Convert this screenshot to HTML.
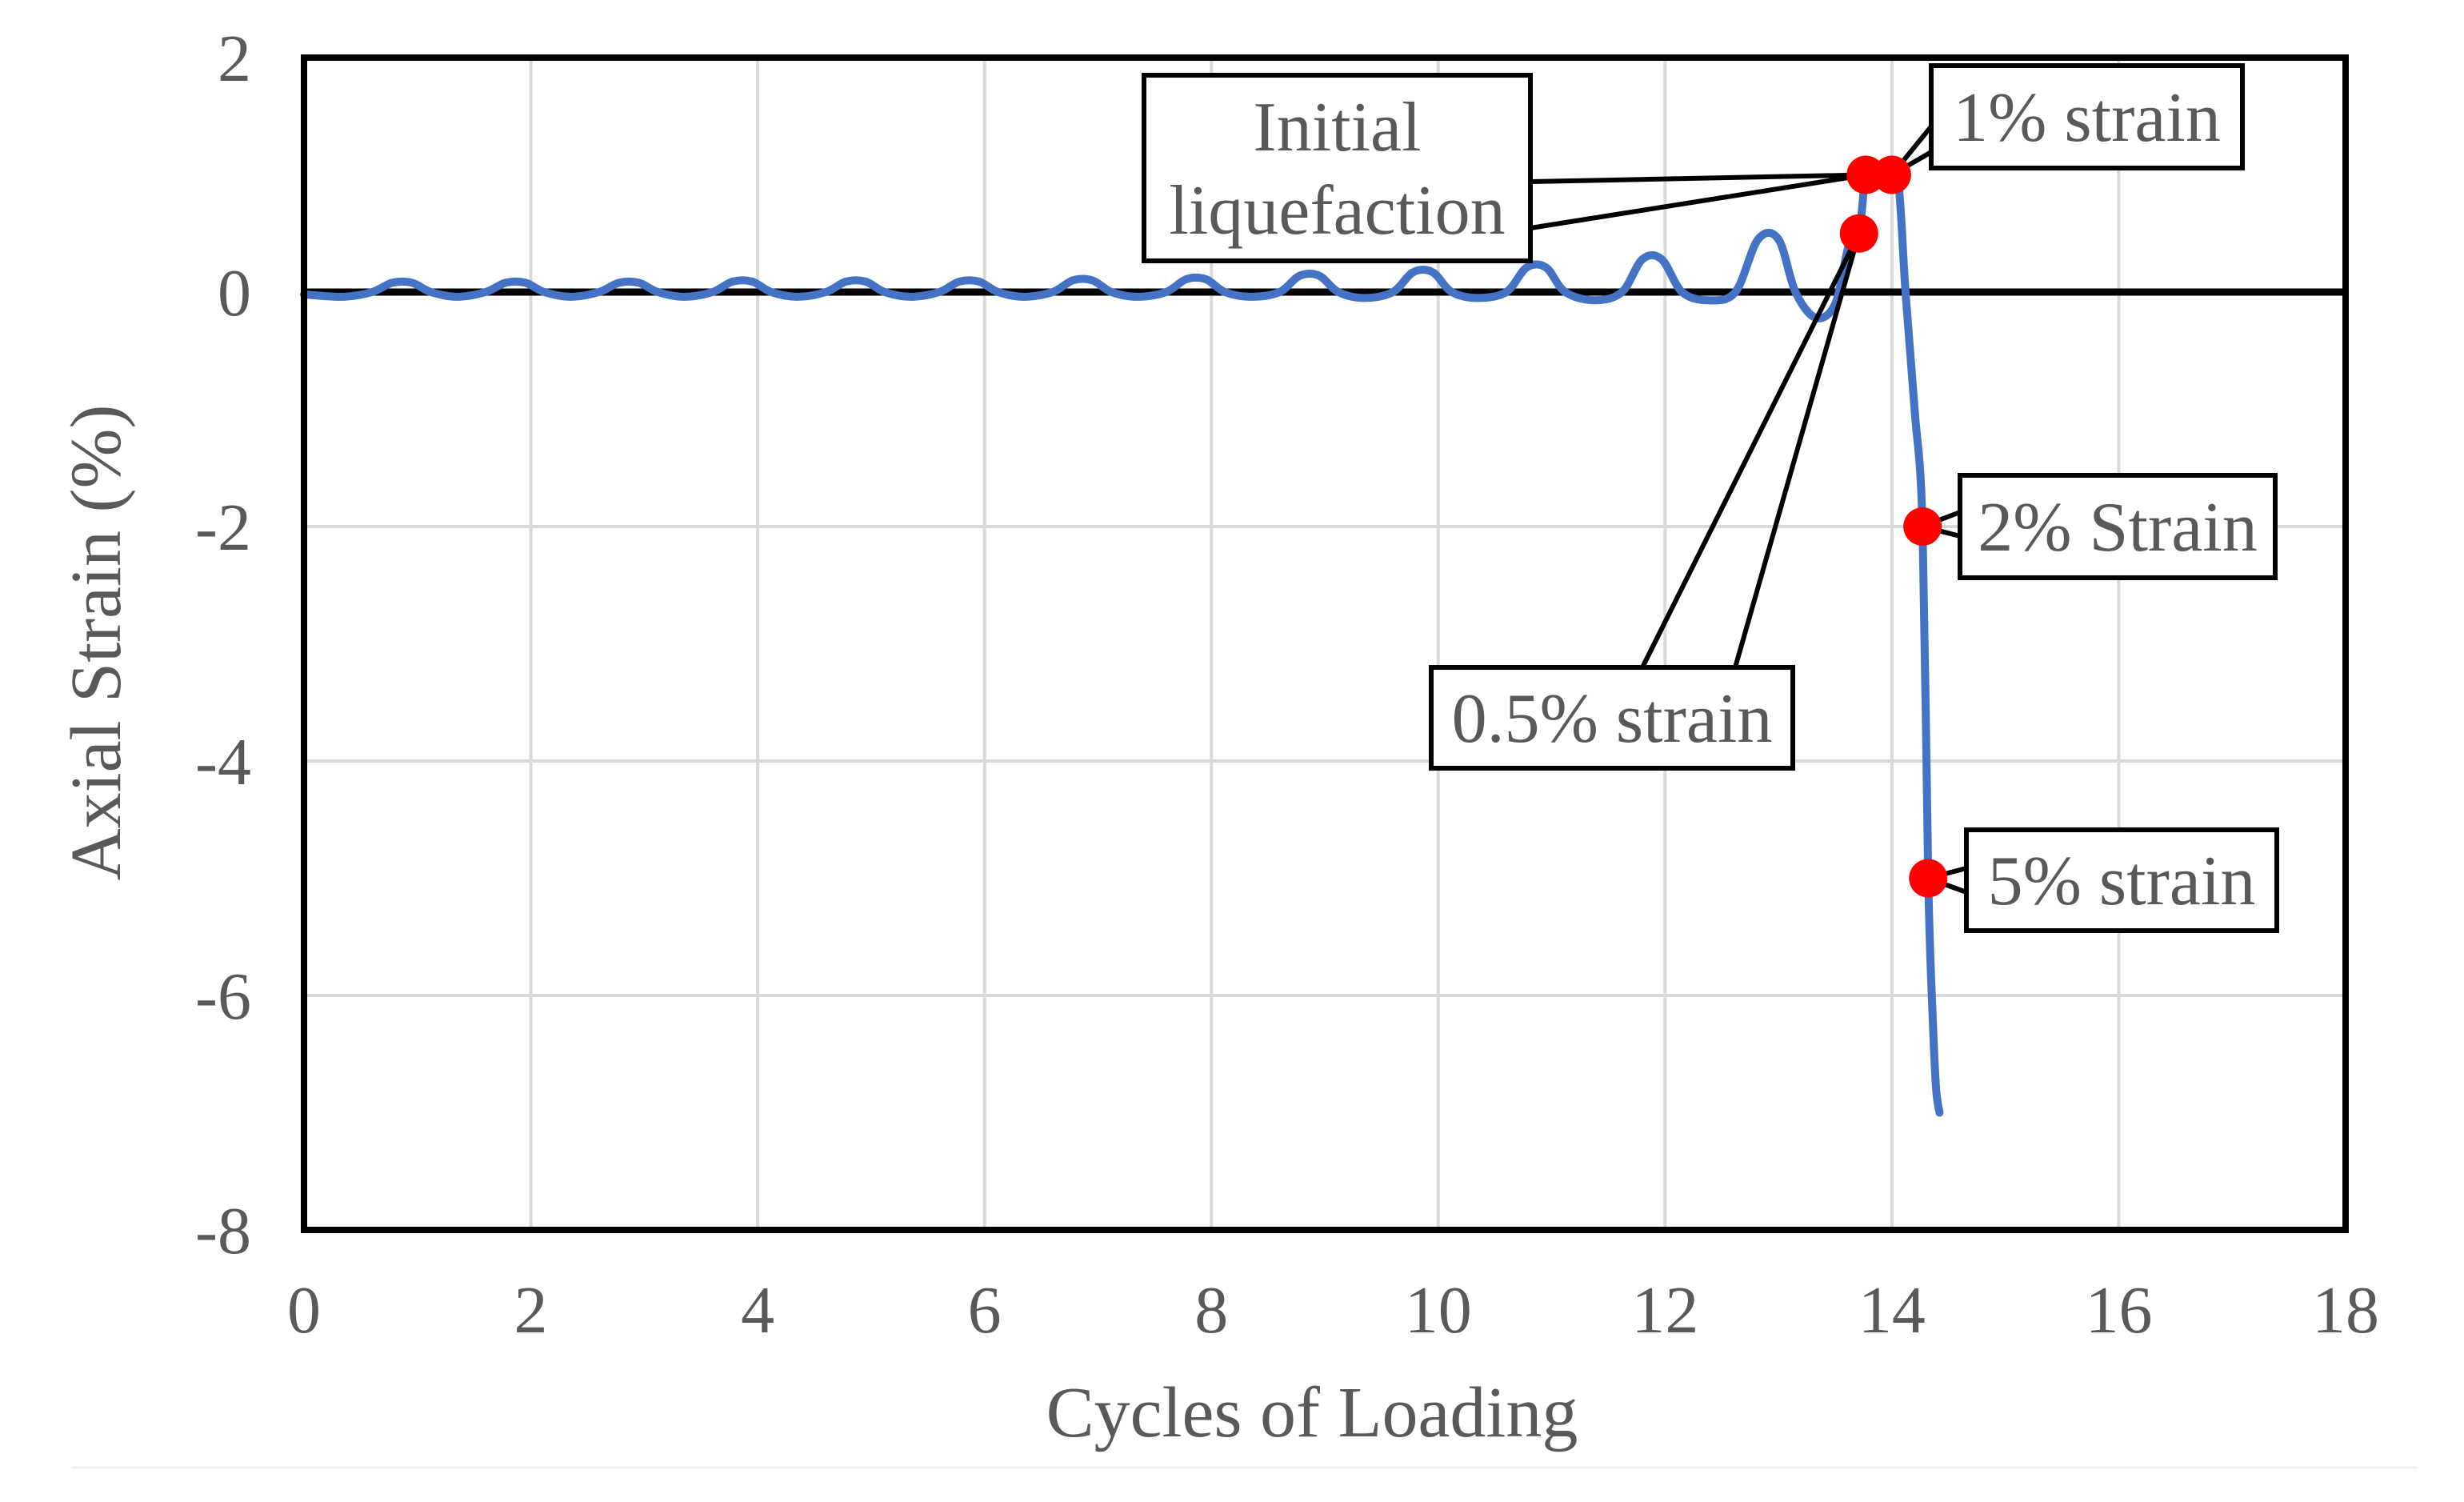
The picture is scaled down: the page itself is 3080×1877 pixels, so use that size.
<!DOCTYPE html>
<html><head><meta charset="utf-8"><style>
html,body{margin:0;padding:0;background:#fff;}
svg{display:block;}
text{font-family:"Liberation Serif",serif;fill:#595959;}
</style></head><body>
<svg id="chart" width="3080" height="1877" viewBox="0 0 3080 1877" xmlns="http://www.w3.org/2000/svg">
<rect width="3080" height="1877" fill="#fff"/>
<line x1="89" y1="1834" x2="3021" y2="1834" stroke="#f0f0f0" stroke-width="3"/>
<g id="grid"></g>
<g id="series"></g>
<g id="ann"></g>
<rect x="380" y="72" width="2552" height="1465" fill="none" stroke="#000" stroke-width="8"/>
<g id="ticks"></g>
<text x="1640" y="1795" font-size="90" text-anchor="middle">Cycles of Loading</text>
<text x="0" y="0" font-size="90" text-anchor="middle" transform="translate(150,803) rotate(-90)">Axial Strain (%)</text>
</svg>
<script>
const xTicks = [0,2,4,6,8,10,12,14,16,18];
const yTicks = [2,0,-2,-4,-6,-8];
const cycX = [0,0.35,0.6,0.78,0.95,1.12,1.35,1.6,1.78,1.95,2.12,2.35,2.6,2.78,2.95,3.12,3.35,3.6,3.78,3.95,4.12,4.35,4.6,4.78,4.95,5.12,5.35,5.6,5.78,5.95,6.12,6.35,6.6,6.78,6.95,7.12,7.35,7.6,7.78,7.95,8.12,8.35,8.6,8.78,8.95,9.12,9.35,9.6,9.78,9.95,10.12,10.35,10.6,10.78,10.95,11.12,11.38,11.62,11.8,11.97,12.15,12.38,12.62,12.82,13.0,13.15,13.33,13.5,13.62,13.71,13.77,13.85,13.95,14.05,14.12,14.2,14.27,14.32,14.36,14.39,14.42];
const strain = [-0.02,-0.04,0.0,0.08,0.08,0.0,-0.04,0.0,0.08,0.08,0.0,-0.04,0.0,0.08,0.08,0.0,-0.04,0.0,0.09,0.09,0.0,-0.04,0.0,0.09,0.09,0.0,-0.04,0.0,0.09,0.09,0.0,-0.04,0.0,0.1,0.1,0.0,-0.04,0.0,0.11,0.11,0.0,-0.04,0.0,0.14,0.14,0.0,-0.05,0.0,0.17,0.17,0.0,-0.05,0.0,0.21,0.21,0.0,-0.07,0.0,0.28,0.28,0.0,-0.07,0.0,0.45,0.45,0.0,-0.22,-0.1,0.4,0.5,1.0,1.05,1.02,1.0,0.0,-1.0,-2.0,-5.0,-6.2,-6.8,-7.0];
const markX = [13.71,13.77,14.0,14.27,14.32];
const markY = [0.5,1.0,1.0,-2.0,-5.0];
const markNames = ['point-0-5-strain','point-initial-liquefaction','point-1-strain','point-2-strain','point-5-strain'];

const NS='http://www.w3.org/2000/svg';
const X0=380,X1=2932,Y0=72,Y1=1537;
const sx=v=>X0+(v-0)/(18-0)*(X1-X0);
const sy=v=>Y0+(2-v)/(2-(-8))*(Y1-Y0);
function mk(tag,attrs,parent){const e=document.createElementNS(NS,tag);for(const k in attrs)e.setAttribute(k,attrs[k]);parent.appendChild(e);return e;}
const grid=document.getElementById('grid'),ticks=document.getElementById('ticks'),series=document.getElementById('series'),ann=document.getElementById('ann');
xTicks.forEach(t=>{
  const l=mk('line',{x1:sx(t),x2:sx(t),y1:Y0,y2:Y1,stroke:'#d9d9d9','stroke-width':4},grid);
  
  
  const tx=mk('text',{x:sx(t),y:Y1+128,'font-size':84,'text-anchor':'middle'},ticks);
  tx.textContent=t;
  
  
});
yTicks.forEach(t=>{
  const l=mk('line',{x1:X0,x2:X1,y1:sy(t),y2:sy(t),stroke:'#d9d9d9','stroke-width':4},grid);
  
  
  const tx=mk('text',{x:314,y:sy(t)+29,'font-size':84,'text-anchor':'end'},ticks);
  tx.textContent=t;
  
  
});
const P=cycX.map((x,i)=>[sx(x),sy(strain[i])]);
let d='M'+P[0][0]+','+P[0][1];
for(let i=0;i<P.length-1;i++){
  const p0=P[Math.max(0,i-1)],p1=P[i],p2=P[i+1],p3=P[Math.min(P.length-1,i+2)];
  const c1=[p1[0]+(p2[0]-p0[0])/6,p1[1]+(p2[1]-p0[1])/6];
  const c2=[p2[0]-(p3[0]-p1[0])/6,p2[1]-(p3[1]-p1[1])/6];
  d+=` C${c1[0]},${c1[1]} ${c2[0]},${c2[1]} ${p2[0]},${p2[1]}`;
}
const zl=mk('line',{x1:X0,x2:X1,y1:sy(0),y2:sy(0),stroke:'#000','stroke-width':9},series);


const path=mk('path',{d:d,fill:'none',stroke:'#4472c4','stroke-width':10,'stroke-linejoin':'round','stroke-linecap':'round'},series);



function box(x,y,w,h,lines,name,fs){
  const g=mk('g',{},ann);
  
  
  mk('rect',{x:x,y:y,width:w,height:h,fill:'#fff',stroke:'#000','stroke-width':6},g);
  lines.forEach((s,i)=>{const t=mk('text',{x:x+w/2,y:y+h/2+30+(i-(lines.length-1)/2)*104,'font-size':fs,'text-anchor':'middle'},g);t.textContent=s;});
}
function leader(x1,y1,x2,y2){const l=mk('line',{x1:x1,y1:y1,x2:x2,y2:y2,stroke:'#000','stroke-width':6},ann);
  
  }
const pIL=[sx(markX[1]),sy(markY[1])],p05=[sx(markX[0]),sy(markY[0])],p1=[sx(markX[2]),sy(markY[2])],p2=[sx(markX[3]),sy(markY[3])],p5=[sx(markX[4]),sy(markY[4])];
leader(1913,227,pIL[0],pIL[1]);leader(1913,285,pIL[0],pIL[1]);
leader(2053,834,p05[0],p05[1]);leader(2169,834,p05[0],p05[1]);
leader(2414,158,p1[0],p1[1]);leader(2414,190,p1[0],p1[1]);
leader(2450,640,p2[0],p2[1]);leader(2450,670,p2[0],p2[1]);
leader(2458,1085,p5[0],p5[1]);leader(2458,1115,p5[0],p5[1]);
box(1430,94,483,232,['Initial','liquefaction'],'initial-liquefaction-label',88);
box(2414,82,389,128,['1% strain'],'one-percent-strain-label',88);
box(2450,594,394,128,['2% Strain'],'two-percent-strain-label',88);
box(2458,1037,388,126,['5% strain'],'five-percent-strain-label',88);
box(1789,834,452,126,['0.5% strain'],'half-percent-strain-label',88);
markX.forEach((x,i)=>{
  const c=mk('circle',{cx:sx(x),cy:sy(markY[i]),r:24,fill:'#ff0000'},ann);
  
  
});
</script>
</body></html>
